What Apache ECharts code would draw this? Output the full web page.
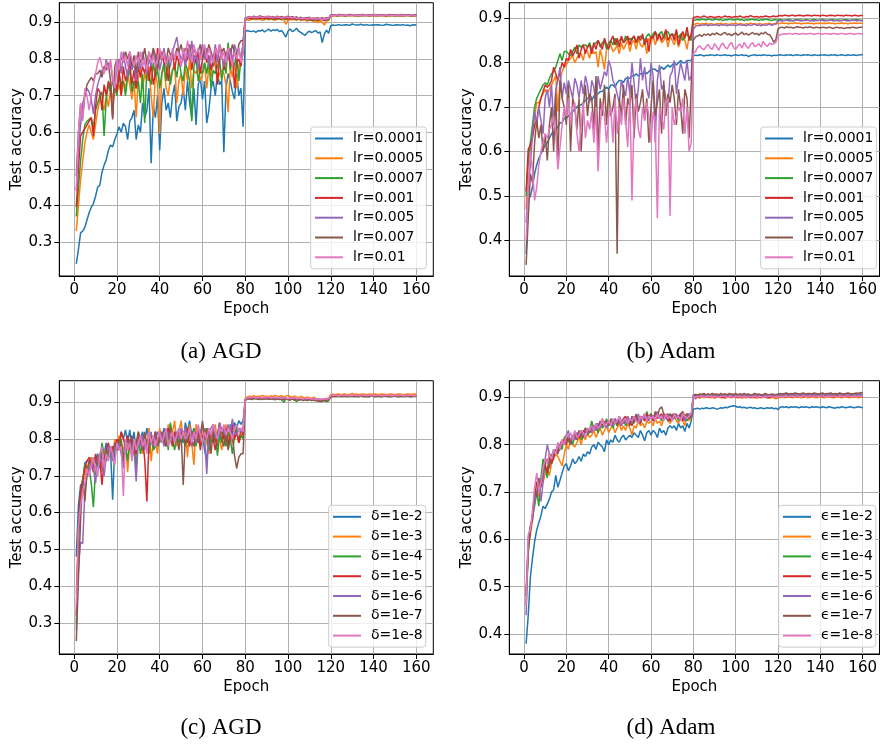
<!DOCTYPE html>
<html><head><meta charset="utf-8">
<script src="https://cdn.jsdelivr.net/npm/echarts@6/dist/echarts.min.js"></script>
<style>html,body{margin:0;padding:0;background:#fff}#c{width:880px;height:745px}</style>
</head><body><div id="c"></div>
<script>
// ---------- categories / labels ----------
const epochs = Array.from({length:160},(_,i)=>i+1);
const xTicks = [0,20,40,60,80,100,120,140,160];
const yTicksA = [30,40,50,60,70,80,90];
const yTicksB = [40,50,60,70,80,90];
const lrNames = ['lr=0.0001','lr=0.0005','lr=0.0007','lr=0.001','lr=0.005','lr=0.007','lr=0.01'];
const deltaNames = ['δ=1e-2','δ=1e-3','δ=1e-4','δ=1e-5','δ=1e-6','δ=1e-7','δ=1e-8'];
const epsNames = ['ϵ=1e-2','ϵ=1e-3','ϵ=1e-4','ϵ=1e-5','ϵ=1e-6','ϵ=1e-7','ϵ=1e-8'];
const captions = ['(a) AGD','(b) Adam','(c) AGD','(d) Adam'];

// ---------- (a) AGD, learning rate (test accuracy, %) ----------
const agdLr0001 = [24,28,32.5,33,34,36,38,39.5,40.5,42.5,45,45.5,49,51,52.5,55,56.5,56,58,59.5,61.5,60,62.5,61.5,58,63,64,66,58,62,60,68,64,66,72,51.5,67,64,70,55,68,72,66,68,64,70,73,63,67,68,72,66,74,68,64,72,62,73,75,69,74,62.5,66,72,74,70,76,73,74,54.5,72,76,74,71,69,76,70,72,61.5,87.5,
87.8,87.6,87.5,87.7,87.3,87.8,87.6,88,87.4,87.8,88.2,87.6,88,87.8,88.1,87.5,87.8,87,86,87.6,88.2,87.5,87.8,88.4,87.6,87.3,86.8,86.5,87.2,87.6,87.2,87.5,87.8,87.1,87.4,84.5,86.8,87.9,87,89.2,
89.3,89.2,89.3,89.4,89.2,89.3,89.4,89.3,89.2,89.6,89.4,89.3,89.3,89.5,89.3,89.3,89.4,89.2,89.3,89.4,89.3,89.4,89.3,89.2,89.3,89.5,89.4,89.3,89.2,89.3,89.4,89.3,89.3,89.4,89.2,89.3,89.1,89.3,89.4,89.3];
const agdLr0005 = [33,40,47,52,57,60,62,60,58,62,66,69,68,66,70,67,72,69,74,71,73,70,74,72,76,73,69,74,64,75,77,72,76,74,78,70,64,76,73,59.5,76,78,72,70,75,77,79,68,74,76,70,78,74,80,72,77,76,78,74,76,79,72,78,75,80,78,74,76,77,76,73,65.5,78,75,79,72,78,80,81,90.5,
90.8,90.6,90.9,91,90.7,90.9,91,90.6,90.8,90.9,90.7,91,90.8,90.6,90.9,91,90.7,90.8,89.5,90.6,90.8,90.7,90.9,90.6,91,90.5,90.8,90.6,90.4,90.7,90.6,90.2,90.5,89.9,90.4,90.1,89.3,90.3,90.6,91.8,
91.8,91.9,91.7,91.8,91.9,91.8,91.7,91.9,91.8,91.8,91.9,91.8,91.7,91.8,91.9,91.8,91.8,91.7,91.9,91.8,91.8,91.7,91.9,91.8,91.8,91.6,91.8,91.9,91.8,91.7,91.8,91.9,91.8,91.7,91.8,91.8,91.9,91.7,91.8,91.6];
const agdLr0007 = [37,45,52,58,62,63,63.5,64,61,66,68,70,71,59,69,73,71,74,72,70,76,73,74,70,75,77,71,74,72,74,68,76,62.5,78,75,73,79,75,77,72,76,79,74,80,73,77,78,75,80,76,74,79,77,74,63,78,80,74,77,76,79,76,80,72,77,76,78,80,74,79,76,84.5,77,80,78,82,74,80,84,90.8,
91,91.2,91.1,90.9,91.2,91,91.3,91.1,90.9,91.2,91,91.1,90.8,91.2,91,91.1,90.9,91.2,90.8,91,91.1,90.9,91.2,90.8,91,90.7,90.9,91.1,90.6,90.8,90.9,90.6,90.8,90.5,90.7,90.9,90.6,90.8,90.7,91.9,
91.9,92,91.8,91.9,92,91.9,91.8,92,91.9,91.9,92,91.9,91.8,91.9,92,91.9,91.9,91.8,92,91.9,91.9,92,91.8,91.9,91.9,92,91.9,91.8,91.9,92,91.9,91.8,91.9,92,91.9,91.9,91.8,91.9,92,91.8];
const agdLr001 = [39.5,50,59,60,61,62,63,64,59,67,72,71,66,73,70,74,72,64,75,71,77,70,78,74,76,79,73,77,72,78,75,78,76,80,74,79,73,76,83,80,82,79,78,74,80,82,77,81,79,78,82,79,80,83,77,81,79,82,76,80,82,79,81,77,80,82,73,80,82,77,80,83,78,81,72,79,80,78,83,91,
91.1,91.2,91,91.3,91.1,91.2,91,91.2,91.1,91.3,91,91.2,91.1,90.9,91.2,91.1,91,91.2,90.9,91.1,91,91.2,90.8,91,91.1,90.9,90.7,91,90.8,91,90.6,90.9,90.8,90.6,90.9,90.7,90.5,90.8,90.9,91.9,
92,91.9,92,91.9,92.1,91.9,92,91.9,92,92.1,91.9,92,91.9,92,91.9,92.1,92,91.9,92,91.9,92,91.9,92.1,92,91.9,92,91.9,92,92.1,91.9,92,91.9,92,91.9,92,92.1,91.9,92,91.9,91.9];
const agdLr005 = [44,55,62,68,70,72,71,69,65,70,73,75,77,76,80,77,79,74,72,78,80,76,82,78,75,81,77,79,74,80,77,82,79,76,80,78,82,79,81,77,80,83,79,81,78,82,84,86,82,80,81,78,83,80,85,79,82,77,81,84,80,83,78,82,80,84,79,83,81,78,82,80,83,79,84,82,83,80,84,91,
91.3,91.5,91.4,91.6,91.3,91.5,91.7,91.4,91.5,91.3,91.6,91.4,91.5,91.3,91.6,91.4,91.5,91.2,91.4,91.6,91.3,91.5,91.2,91.4,91.1,91.3,90.9,91.2,91,91.3,91.1,90.8,91.2,90.9,91.1,91.3,90.8,91.1,91,92,
92,92.1,91.9,92,92.1,92,91.9,92.1,92,92,92.1,91.9,92,92.1,92,91.9,92,92.1,92,91.9,92,92.1,92,92,91.9,92.1,92,92,91.9,92,92.1,92,91.9,92,92,92.1,92,91.9,92,92];
const agdLr007 = [48,60,67.5,64,70,73,74,75,74,76,76,77,75,78,77,79,74,63.5,78,80,77,81,79,82,80,82,78,81,76,82,79,80,83,79,82,80,83,81,77,82,80,82,79,83,81,82,80,83,82,84,81,83,82,84,80,83,81,82,84,80,83,81,84,82,78,83,81,84,82,83,80,83,81,84,82,79,84,85,85,91.2,
91.4,91.6,91.5,91.7,91.5,91.6,91.8,91.5,91.6,91.4,91.7,91.5,91.6,91.4,91.7,91.5,91.6,91.4,91.5,91.7,91.4,91.6,91.3,91.5,91.2,91.4,91.1,91.3,91.2,91.4,91,91.2,91.1,91.3,91,91.2,91.1,91.3,91.2,92.1,
92.1,92,92.1,92.2,92,92.1,92,92.1,92.2,92,92.1,92,92.1,92,92.2,92.1,92,92.1,92,92.1,92.2,92,92.1,92,92.1,92,92.2,92.1,92,92.1,92,92.1,92.2,92,92.1,92,92.1,92,92.1,92];
const agdLr01 = [44,60,68,63,72,70,66,70,73,76,79,80.5,78,76,79,77,80,75,72,80,77,82,79,81,78,82,80,78,81,79,82,78,80,77,82,79,81,78,80,83,80,82,78,81,79,83,80,82,81,78,83,80,85,82,79,84,81,83,80,82,84,80,83,81,79,83,81,84,80,82,79,83,81,78,82,80,83,79,82,91,
91.2,91.4,91.6,91.3,91.5,91.4,91.6,91.3,91.5,91.7,91.4,91.5,91.3,91.6,91.4,91.5,91.2,91.4,91.6,91.3,91.5,91.2,91.4,91.1,91.3,91,91.2,91.1,90.9,91.2,91,91.2,90.9,91.1,91,90.8,91.1,91,91.2,92,
91.9,92,92.1,91.9,92,91.9,92.1,92,91.9,92,92.1,91.9,92,91.9,92,92.1,91.9,92,91.9,92,92.1,92,91.9,92,91.9,92.1,92,91.9,92,92,91.9,92.1,92,91.9,92,91.9,92,92.1,91.9,91.8];

// ---------- (b) Adam, learning rate ----------
const adamLr0001 = [37,49,50,52,55,57,58.5,59.5,60.5,61.5,62,63,64,64.5,65,65.5,66.5,66.5,67.5,67.5,68,68.5,69,69.5,70,70.5,70.5,71,71.5,72,72,71.5,72.5,73,73,73.5,73.5,74,74.5,74,75,75,74.5,75.5,76,76,75.5,76.5,76.5,76.5,77,77,77.5,77,77.5,77.5,78,77.5,78,78.5,78.5,78.5,78,78.5,79,78.5,79,79.5,79,79.5,80,79.5,80,80.5,80,80,80.5,80.5,80.5,81.5,
81.7,81.6,81.8,81.7,81.5,81.7,81.6,81.8,81.7,81.6,81.8,81.7,81.6,81.7,81.8,81.6,81.7,81.5,81.7,81.8,81.6,81.7,81.8,81.6,81.7,81.4,81.6,81.7,81.8,81.6,81.7,81.6,81.8,81.7,81.6,81.7,81.5,81.7,81.6,81.7,
81.8,81.7,81.6,81.8,81.7,81.8,81.6,81.7,81.8,81.7,81.6,81.8,81.7,81.8,81.7,81.6,81.8,81.7,81.6,81.8,81.7,81.8,81.7,81.6,81.8,81.7,81.8,81.6,81.7,81.8,81.7,81.6,81.8,81.7,81.7,81.8,81.6,81.7,81.8,81.8];
const adamLr0005 = [47,58,60,64,68,71,71,72,73,74,73,74,75,76,77,69,76,78,79,79.5,80.5,81,81.5,80,81,82,82,80.5,83,82.5,81,83.5,82,82.5,79,83,81,78.5,83,83.5,84,82.5,83,84,82,84.5,83,84,85,82.5,84.5,85,83,85.5,84,83.5,85,82,85.5,84.5,86,84,85.5,86,84.5,85,86,83.5,86,85,84,86,83.5,85,86.5,85,83,86,85.5,88.5,
88.7,88.9,88.6,88.8,88.7,88.9,88.6,88.8,88.7,88.5,88.8,88.7,88.9,88.6,88.8,88.7,88.5,88.8,88.7,88.9,88.6,88.8,88.7,88.5,88.8,88.6,88.9,88.7,88.8,88.6,88.8,88.7,88.5,88.8,88.7,88.9,88.6,88.8,88.7,88.8,
88.8,89,88.8,88.9,88.7,88.9,88.8,89,88.8,88.9,88.7,88.9,88.8,89,88.8,88.9,88.7,88.9,88.8,89,88.8,88.9,88.8,89,88.8,88.9,88.7,88.9,88.8,89,88.8,88.9,88.7,88.9,88.8,89,88.8,88.9,88.9,88.8];
const adamLr0007 = [50,58,62,66,70,72,73,74,75,75.5,75,76.5,77.5,78,79,80.5,82,80.5,82.5,82.5,82,81.5,82.5,83.5,82,84,83.5,84,84,83.5,84.5,83,84,84.5,85,83.5,84.5,85,83,84.5,85,84,85.5,84,85,85.5,84.5,86,85,85.5,85,86,84.5,85.5,86,85.5,85,86,86.5,85.5,86.5,87,86,86.5,87,85.5,86.5,87,86,86.5,86,87,85.5,86.5,85,86,86.5,85.5,85,89.5,
89.6,89.7,89.6,89.8,89.7,89.6,89.8,89.7,89.6,89.7,89.8,89.6,89.7,89.5,89.7,89.6,89.8,89.7,89.6,89.7,89.8,89.6,89.7,89.5,89.7,89.6,89.7,89.8,89.6,89.7,89.5,89.7,89.6,89.8,89.7,89.6,89.5,89.7,89.6,89.6,
89.7,89.6,89.5,89.6,89.7,89.6,89.5,89.6,89.7,89.6,89.6,89.5,89.7,89.6,89.5,89.6,89.7,89.6,89.5,89.6,89.7,89.6,89.5,89.6,89.6,89.7,89.5,89.6,89.6,89.5,89.6,89.7,89.6,89.5,89.6,89.6,89.7,89.6,89.5,89.6];
const adamLr001 = [51,60.5,61.5,63,66,67,70,72,73.5,75,74.5,75,76,79,77.5,76,78,80,79,81,80.5,83,81.5,82.5,84,81,83,84,82,83.5,84,82,84.5,83,85,84,83,85.5,84,83,85,86,84,85.5,83.5,86,84.5,85,86,84,85.5,86,84.5,86,85,86.5,84,85.5,82.5,86,85.5,87,85,86.5,85,86,87.5,85,86,86.5,85,87.5,84,86,87,85.5,88,85,86.5,90.2,
90.3,90.4,90.2,90.3,90.5,90.3,90.2,90.4,90.3,90.1,90.3,90.4,90.2,90.3,90.5,90.3,90.4,90.2,90.3,90.4,90.3,90.5,90.3,90.2,90.4,90.3,90.6,90.4,90.3,90.4,90.2,90.4,90.3,90.5,90.4,90.3,90.4,90.5,90.3,90.5,
90.6,90.5,90.7,90.6,90.5,90.6,90.7,90.5,90.6,90.7,90.6,90.5,90.6,90.7,90.6,90.5,90.7,90.6,90.6,90.5,90.7,90.6,90.5,90.6,90.7,90.6,90.5,90.7,90.6,90.6,90.5,90.7,90.6,90.6,90.5,90.7,90.6,90.5,90.6,90.6];
const adamLr005 = [44,52,57,64,69,66,70,67,64,72,74,70,75,66,74,76,79,72,75.5,73,76,74,72,76.5,75,72,76,73,77,75,71,76,74.5,70,77,74,76,78,77,80.5,79,76,75,73,71,76,74,72.5,77,73,80,75.5,70,74,81,76,79,74,72,80,77,62,76,79.5,74,75,72,70,77,78,80.5,73,77,80,78,76,80.5,76,77,87.5,
88.2,88.4,88.3,88.5,88.4,88.6,88.3,88.5,88.4,88.6,88.5,88.3,88.6,88.4,88.5,88.3,88.6,88.4,88.5,88.3,88.5,88.6,88.4,88.5,88.3,88.6,88.4,88.5,88.7,88.4,88.5,88.3,88.6,88.4,88.5,88.7,88.4,88.6,88.8,89.4,
89.5,89.4,89.5,89.6,89.4,89.5,89.4,89.5,89.6,89.5,89.4,89.5,89.5,89.6,89.4,89.5,89.4,89.5,89.5,89.6,89.5,89.4,89.5,89.5,89.6,89.4,89.5,89.5,89.4,89.5,89.6,89.5,89.4,89.5,89.5,89.6,89.4,89.5,89.5,89.4];
const adamLr007 = [34.5,45,55,53,62,67,63,66,60,64,58,66,70,60,73,57,76,72,70,66,75,60,72,70,65,72,60,70,75,68,73,72,65,77,60,72,68,75,66,74,68,70,73,37,72,68,75,66,72,70,75,63,73,69,71,74,67,72,62,70,76,68,71,74,64,76,68,73,71,75,72,66,74,70,64,74,72,63,75,85,
85.8,86,86.3,85.9,86.4,86.2,86.5,86.1,86.6,86.3,86.7,86.4,86.2,86.6,86.8,86.3,86.5,86.1,86.4,86.7,86.2,86.5,86.9,86.3,86.6,86.2,86.5,86.8,86.4,86.6,86.2,86.7,86.5,86.9,86.4,86.3,85.6,84.6,85.2,87.6,
87.9,88,87.8,88.1,87.9,88,87.8,87.9,88.1,88,87.9,87.8,88,87.9,88.1,87.9,87.8,88,87.9,87.8,88,87.9,87.8,88,87.9,87.7,87.9,88,87.8,87.9,87.7,87.8,87.9,87.8,88,87.9,87.8,87.9,88,88];
const adamLr01 = [40,52,60,56,49,52,57,60,62,64,63,65,66,68,64,56,61,66,70,68,72,66,70,71,64,60,66,71,63,67,65,69,62,70,55.5,66,71,68,62,68,70,62,72,64,70,66,72,67,61,73,49,68,72,65,63,70,67,71,68,62,69,66,45,70,68,65,71,72,45.5,70,66,68,70,69,72,64,70,60,62,82,
82.5,83.4,83.8,83.2,82.9,83.6,84.1,83.3,83,84.3,83.6,82.8,83.9,84.4,83.5,83.1,84,84.6,83.4,83,83.8,84.2,83.3,84.6,83.7,83.2,84.1,84.5,83.6,83.9,84.3,83.5,84.8,84,83.7,84.4,84.1,84.3,84.6,86,
86.3,86.4,86.5,86.4,86.6,86.5,86.4,86.6,86.5,86.4,86.5,86.6,86.4,86.5,86.6,86.5,86.4,86.5,86.6,86.5,86.4,86.6,86.5,86.5,86.4,86.6,86.5,86.4,86.5,86.6,86.5,86.4,86.5,86.6,86.5,86.4,86.5,86.6,86.5,86.5];

// ---------- (c) AGD, delta ----------
const agdD2 = [48,62,67.5,68,73.5,74,74,75,72,74,76,72,77,76,79,75,77,63.5,78,80,77,82,80,82.5,79,82.5,78,82,76,81,80,82,79,83,80,81,77,82,79,81,80,83,81,80,84,79,82,80,83,81,79,84.5,82,85,81,83,79,82,80,81,77,74,82,80,83,81,78,81,83,80,82,78,84,81,84.5,83,85,84,85,90.8,
91,91.2,91.1,91.3,91,91.2,91.3,91.1,91.2,91,91.3,91.1,91.2,91,91.1,91.3,91,91.2,91.1,90.9,91.1,91,91.2,90.9,91.1,91,90.8,91.1,90.9,91,90.8,91,90.9,90.7,90.8,90.6,90.9,90.8,90.9,91.7,
91.8,91.9,91.8,91.7,91.9,91.8,91.9,91.8,91.7,91.8,91.9,91.8,91.8,91.7,91.9,91.8,91.8,91.9,91.7,91.8,91.9,91.8,91.7,91.8,91.9,91.8,91.8,91.7,91.9,91.8,91.8,91.9,91.7,91.8,91.8,91.9,91.8,91.7,91.8,91.8];
const agdD3 = [38,55,64,68,70,73,72,75,73,75,74,76,71,77,75,77,78,74,80,78,81,79,77,80,71,79,77,80,74,82,79,76,81,78,83,74,80,79,76,83,80,81,78,84,80,82,85,78,82,85,80,83,75,84,79,73,84,80,78,84,81,79,76,80,82,84,79,80,77,81,84,80,82,79,83,82,79,81,82,91.2,
91.5,91.7,91.6,91.8,91.5,91.7,91.6,91.9,91.6,91.7,91.5,91.8,91.6,91.9,91.7,91.6,91.8,91.5,91.7,91.9,91.6,91.4,91.7,91.5,91.3,91.6,91.4,91.2,91.5,91.3,91,91.4,91.1,90.8,91,90.6,90.9,91.1,91,92.1,
92.2,92.1,92.3,92.2,92.1,92.3,92.2,92.1,92.2,92.4,92.2,92.3,92.1,92.2,92.3,92.2,92.1,92.3,92.2,92.2,92.3,92.1,92.2,92.3,92.2,92.1,92.2,92.3,92.2,92.1,92.2,92.3,92.2,92.1,92.2,92.3,92.2,92.2,92.3,92.2];
const agdD4 = [30,52,65,69,73,72,72,68,61.5,72,74,73,79,76,74,77,75,78,76,79,77,80,75,78,74,80,77,79,72,80,76,79,78,80,76,81,77,78,80,79,81,79,82,77,84.5,80,77,81,79,82,80,78,82,81,79,83,78,82,80,79,83,81,77,80,79,82,75.5,81,79,83,78,82,80,76,81,83,79,81,80,90.8,
90.9,91.1,90.8,91,91.2,90.9,91.1,90.8,91,91.1,90.9,91,90.8,91.1,90.9,91,90.7,90,90.9,91,90.8,90.9,90.6,90.3,90.7,90.9,90.6,90.8,90.5,90.7,90.8,90.5,90.7,90.4,90.6,90.3,90.5,90.2,90.4,91.6,
91.6,91.7,91.6,91.5,91.7,91.6,91.6,91.7,91.5,91.6,91.7,91.6,91.5,91.6,91.7,91.6,91.6,91.5,91.7,91.6,91.6,91.7,91.5,91.6,91.6,91.7,91.6,91.5,91.6,91.7,91.6,91.5,91.6,91.7,91.6,91.6,91.5,91.6,91.7,91.6];
const agdD5 = [32,55,66,69,72,74,75,73,71,76,73,75,67.5,74,77,79,76,78,77,80,78,82,80,78,81,77,80,79,76,81,79,80,74.5,63,80,81,78,82,79,82,80,79,81,83,80,78,82,80,83,81,82,79,83,78,81,82,80,83,77,81,80,83,79,82,80,77,81,84.5,82,80,83,78,81,84,80,82,79,83,81,90.6,
91.1,91.3,91,91.2,91.1,91.3,91,91.2,91.1,91,91.2,91.1,90.9,91.2,91,91.1,90.9,91.1,91,90.8,91,90.9,91.1,90.8,91,90.9,90.7,91,90.8,90.9,90.7,90.9,90.6,90.4,90.2,90.5,90.7,90.8,90.9,91.8,
91.8,91.9,91.8,91.7,91.8,91.9,91.8,91.8,91.7,91.9,91.8,91.8,91.9,91.7,91.8,91.8,91.9,91.8,91.7,91.8,91.9,91.8,91.8,91.7,91.8,91.9,91.8,91.8,91.7,91.8,91.9,91.8,91.7,91.8,91.8,91.9,91.8,91.7,91.8,91.8];
const agdD6 = [28,45,52,51.5,66,70,72,74,72,68,74,76,73,70,75,78,77,74,78,77,79,76,72,78,77,80,75,77,68.5,80,78,81,77,79,80,82,78,80,82,80,81,78,82,80,83,81,79,82,80,83,81,83,80,82,78,82,79,83,81,84,81,70.5,82,83,84,80,81,84.5,82,83,80,84,82,85.5,82,81,83,82,83,90.8,
91,91.2,91.1,91.3,91.1,91,91.2,91.1,91.3,91,91.2,91.1,91,91.2,91.1,90.9,91.1,91,91.2,90.9,91.1,91,90.8,91.1,90.9,91,90.8,91,90.7,90.9,90.8,90.6,90.9,90.7,90.8,90.5,90.8,90.9,90.7,91.7,
91.8,91.7,91.8,91.9,91.7,91.8,91.8,91.7,91.9,91.8,91.7,91.8,91.8,91.9,91.7,91.8,91.7,91.8,91.9,91.8,91.7,91.8,91.8,91.7,91.9,91.8,91.7,91.8,91.8,91.9,91.7,91.8,91.8,91.7,91.8,91.9,91.8,91.7,91.8,91.8];
const agdD7 = [25,42,58,69.5,63,71,74,73,75,74,73,76,75,74,77,76,78,76,79,77,80,78,74,80,78,79,81,76,79,82,80,77,82,78,80,81,79,82,78,80,82,80,78,81,83,80,79,81,77,82,67.5,81,79,82,80,78,82,79,81,85,80,83,81,76,82,79,81,83,80,78,82,77,80,81,75.5,72,75,76,76,90.5,
90.9,91,90.8,91.1,90.9,91,90.8,91,90.9,91.1,90.8,91,90.9,90.7,91,90.8,90.9,90.7,90.9,90.8,90.6,90.9,90.7,90.8,90.6,90.8,90.5,90.7,90.6,90.8,90.5,90.7,90.4,90.6,90.3,90.5,90.6,90.4,90.7,91.5,
91.6,91.5,91.6,91.7,91.5,91.6,91.6,91.5,91.7,91.6,91.5,91.6,91.6,91.7,91.5,91.6,91.5,91.6,91.7,91.6,91.5,91.6,91.6,91.5,91.7,91.6,91.5,91.6,91.6,91.7,91.5,91.6,91.6,91.5,91.6,91.7,91.6,91.5,91.6,91.6];
const agdD8 = [35,56,62,66,68,72,70,73,75,72,70,76,78,72,76,74,78,76,73,79,77,78,64.5,80,77,79,74,80,77,79,81,78,80,76,82,79,81,78,80,82,79,81,83,78,80,82,79,81,83,80,82,80,81,83,79,82,80,84,81,79,82,80,83,81,84,82,80,83,82,84,81,83,82,80,83,84,82,83,82,90.8,
91.2,91.4,91.3,91.5,91.2,91.4,91.3,91.2,91.4,91.3,91.5,91.2,91.3,91.4,91.2,91.3,91.1,91.3,91.2,91,91.2,91.1,91.3,91,91.2,91.1,90.9,91.1,91,91.1,90.9,91,90.8,91,90.7,90.9,91,90.9,91,91.9,
91.9,92,91.9,91.8,92,91.9,91.9,92,91.8,91.9,92,91.9,91.9,91.8,92,91.9,91.9,92,91.8,91.9,91.9,92,91.9,91.8,91.9,92,91.9,91.9,91.8,92,91.9,91.9,92,91.8,91.9,91.9,92,91.9,91.8,91.9];

// ---------- (d) Adam, epsilon ----------
const adamE2 = [38,44,52,56,59.5,62,63.5,65,67,66.5,67.5,68.5,70,70.5,73.5,71,72.5,74,75.5,76,74.5,75.5,77,76,76.5,77.5,76.5,78,77.5,78.5,78,79.5,80,79,80.5,80,79.5,78.5,81,80,81,80.5,82,81,80.5,81.5,82,81,81.5,82,81.5,82.5,82,81.5,83,82,80.8,82.5,83,82,83,82.5,81.5,83.5,82.5,83,82,83.5,84,83.5,84,83,84.5,83.5,84,82.8,84.5,83.5,85,87.5,
87.6,87.7,87.5,87.7,87.6,87.8,87.7,87.6,87.8,87.7,87.5,87.6,87.8,87.7,87.9,87.8,88,88.1,88.2,88.1,87.9,88,87.8,87.9,87.7,87.8,87.9,87.7,87.8,87.6,87.7,87.8,87.6,87.7,87.8,87.7,87.8,87.6,87.7,87.4,
87.9,88,87.9,88,87.8,88,87.9,88,87.9,87.8,88,87.9,88,87.9,87.8,88,87.9,88,87.9,87.8,88,87.9,87.8,88,87.9,87.8,87.7,87.9,87.8,88,87.9,87.8,87.9,88,87.9,87.8,87.9,88,87.9,87.8];
const adamE3 = [48,58,61,64,68,70,69,73,72,74,75,73.5,76,77,78,77.5,76.5,75.5,78,80,79,81,80,79.5,80.5,81.5,80,82,81,82.5,81.5,82,83,81.5,82.5,83.5,82,83,84,82.5,83.5,84,82.5,83.5,84.5,83,84,83,84.5,83.5,82,84,83.5,85,84,84.5,83.5,85,84.5,85,84,85.5,84.5,85,84,85.5,86,85,84.5,85.5,86,85,84.5,86,85,84,86.5,85,86,90,
89.9,90,89.8,90.1,89.9,90,90.1,89.9,90,89.8,90,90.1,89.9,90,89.8,90,90.1,89.9,90,90.1,89.9,90,89.8,90,89.9,90.1,90,89.9,90,89.8,90,89.9,90.1,90,89.9,89.8,90,89.9,89.7,89.9,
90,90.1,89.9,90,90.1,90,89.9,90,90.1,90,89.9,90,90.1,89.9,90,90.1,90,89.9,90,90.1,90,89.9,90,90.1,90,89.9,90,90,90.1,89.9,90,90.1,90,89.9,90,90.1,90,89.9,90,90];
const adamE4 = [46,57,62,65,67,70,67,73,77,75,73,77,76,78,78.5,79,80,79,81.5,82,80.5,81,80,82,81.5,82.5,81,82,83.5,82,83,85,83,84,82.5,84.5,83.5,84,85.5,84,84.5,83.5,85,84,85,84.5,85.5,84,85,84.5,85,84.5,86,85,84.5,86,85,87,85.5,86,85,86.5,85.5,86,85,86.5,85.5,86,85,86.5,85.5,86,85,86.5,85.5,86,85,86.5,86,90.3,
90.4,90.5,90.3,90.6,90.4,90.5,90.6,90.3,90.5,90.4,90.6,90.4,90.5,90.3,90.5,90.6,90.4,90.5,90.3,90.5,90.4,90.6,90.3,90.5,90.4,90.3,90.5,90.4,90.6,90.3,90.5,90.4,90.3,90.5,90.4,90.6,90.4,90.3,90.5,90.4,
90.5,90.4,90.6,90.5,90.4,90.5,90.6,90.4,90.5,90.5,90.4,90.6,90.5,90.4,90.5,90.6,90.5,90.4,90.5,90.6,90.5,90.4,90.5,90.6,90.5,90.4,90.5,90.5,90.6,90.4,90.5,90.6,90.5,90.4,90.5,90.6,90.5,90.4,90.5,90.5];
const adamE5 = [49,59,62,65,69,72,72.5,72,74,76,74,78,76,77.5,79,78.5,79,80.5,81,80,81.5,80.5,82,81,82.5,81.5,82,83,82.5,83,82.5,83.5,84,83,84.5,83.5,85.5,84,85,84.5,85,84,85.5,84.5,85,84,85.5,86,84.5,85,84,85.5,86,85,84.5,86,85,86.5,85.5,86,85,86.5,85.5,86,86.5,85.5,86,86.5,85,86,86.5,85.5,86,86.5,85,86,86.5,85.5,86,90.2,
90.1,90.2,90,90.3,90.1,90.2,90,90.2,90.1,90.3,90,90.2,90.1,89.9,90.2,90.1,90.3,90,90.2,90.1,90,90.2,90.1,90.3,90,90.1,89.9,90.2,90,90.1,90.2,90,90.1,90.2,89.9,90.1,90,90.2,90.1,90.2,
90.1,90.2,90.3,90.1,90.2,90.1,90.3,90.2,90.1,90.2,90.3,90.1,90.2,90.2,90.1,90.3,90.2,90.1,90.2,90.3,90.1,90.2,90.2,90.3,90.1,90.2,90.1,90.3,90.2,90.1,90.2,90.3,90.1,90.2,90.2,90.1,90.3,90.2,90.1,90.1];
const adamE6 = [44,60,63,64,68,70,72,68,72,77,80,78,77,79,78.5,80,79.5,81,80,82,83,80.5,82,81,82.5,82,83,81.5,83,82.5,83.5,82.5,84,83,84.5,83.5,84,85,83.5,84.5,85,84,85.5,84.5,85,84,85.5,84.5,86,85,84.5,86,85,86.5,85,86,85.5,86,85,86.5,85.5,86,87,86,85.5,86.5,85.5,86,86.5,85,86,86.5,85.5,86,86.5,85,86,86.5,86,90.4,
89.6,90.3,90.5,90.2,90.6,90.4,90.7,90.3,90.5,90.6,90.4,90.6,90.3,90.5,90.7,90.4,90.5,90.3,90.6,90.4,90.5,90.7,90.4,90.5,90.3,90.6,90.4,90.5,90.3,90.6,90.4,90.5,90.3,90.6,90.4,90.5,90.3,90.4,90.6,90.5,
90.6,90.5,90.7,90.6,90.5,90.6,90.7,90.5,90.6,90.6,90.5,90.7,90.6,90.5,90.6,90.7,90.6,90.5,90.6,90.7,90.6,90.5,90.6,90.7,90.6,90.5,90.6,90.6,90.7,90.5,90.6,90.7,90.6,90.5,90.6,90.7,90.6,90.5,90.7,90.6];
const adamE7 = [48,58,62,65,70,69,73,71,74,76,77,75,78,77.5,79,78,80,81,80.5,81,82,80,81.5,82.5,81,83,82,81.5,83.5,83,82.5,84,83,84.5,83.5,85,84,84.5,85,84,85.5,84.5,85,84,86,85,84.5,85.5,85,84,86,85,86.5,85,86,85.5,86.5,85,86,86.5,85.5,87,86,87.5,88,86.5,86,85,86.5,85.5,86.5,86,85.5,86.5,87,86,86.5,85.5,86,90.5,
90.6,90.5,90.7,90.6,90.8,90.5,90.7,90.6,90.8,90.6,90.7,90.5,90.8,90.6,90.7,90.5,90.8,90.7,90.6,90.8,90.5,90.7,90.6,90.8,90.6,90.7,90.5,90.6,90.8,90.6,90.7,90.5,90.6,90.8,90.6,90.5,90.7,90.6,90.5,90.7,
90.8,90.7,90.8,90.9,90.7,90.8,90.7,90.9,90.8,90.7,90.8,90.9,90.7,90.8,90.8,90.7,90.9,90.8,90.7,90.8,90.9,90.7,90.8,90.8,90.9,90.7,90.8,90.7,90.9,90.8,90.7,90.8,90.9,90.8,90.7,90.8,90.9,90.8,91,90.9];
const adamE8 = [46,61,62,66,71,74,70,72,75,77,76,78,77,79,78,80.5,79,81,80,82,81.5,82.5,81,83,81.5,82,83,82.5,81.5,83.5,83,84,83,84.5,83.5,84,85.5,84,84.5,85,84,85.5,84.5,85,86,84.5,85,85.5,84.5,85.5,85,86,85,84.5,86,85.5,86.5,85,86,85.5,86,85,86.5,85.5,86,85,86.5,85.5,86,85,86.5,85.5,86,85,86.5,86,85.5,86,86.5,90.3,
90,90.2,90.1,90.3,90,90.2,90.1,90.3,90,90.2,90.1,90,90.2,90.1,90.3,90,90.2,90.1,90,90.2,90.1,90.3,90,90.2,90.1,90,90.2,90.1,90.3,90,90.2,90.1,90,90.2,90.1,90.3,90.1,90,90.2,90.1,
90.2,90.1,90.3,90.2,90.1,90.2,90.3,90.1,90.2,90.2,90.1,90.3,90.2,90.1,90.2,90.3,90.2,90.1,90.2,90.2,90.3,90.1,90.2,90.2,90.1,90.3,90.2,90.1,90.2,90.2,90.1,90.2,90.3,90.2,90.1,90.2,90.2,90.3,90.1,90.2];

// ---------- build ----------
const colors = ['#1f77b4','#ff7f0e','#2ca02c','#d62728','#9467bd','#8c564b','#e377c2'];
const FONT = 'DejaVu Sans';
const panels = [
  {names: lrNames,    data: [agdLr0001,agdLr0005,agdLr0007,agdLr001,agdLr005,agdLr007,agdLr01],
   grid:{left:59.3,top:2.7,width:374,height:273.3}, y:[20.7,95.4], yt:yTicksA, leg:{left:310.7,top:127}},
  {names: lrNames,    data: [adamLr0001,adamLr0005,adamLr0007,adamLr001,adamLr005,adamLr007,adamLr01],
   grid:{left:509.3,top:2.7,width:374,height:273.3}, y:[32,93.5], yt:yTicksB, leg:{left:760.7,top:127}},
  {names: deltaNames, data: [agdD2,agdD3,agdD4,agdD5,agdD6,agdD7,agdD8],
   grid:{left:59.3,top:380.7,width:374,height:273.3}, y:[21.5,95.9], yt:yTicksA, leg:{left:328.7,top:505.3}},
  {names: epsNames,   data: [adamE2,adamE3,adamE4,adamE5,adamE6,adamE7,adamE8],
   grid:{left:509.3,top:380.7,width:374,height:273.3}, y:[35.8,93.5], yt:yTicksB, leg:{left:778.7,top:505.3}}
];
const grids=[],xAxes=[],yAxes=[],series=[],legends=[],graphics=[];
panels.forEach((p,pi)=>{
  grids.push(Object.assign({show:true,borderColor:'#000',borderWidth:1,backgroundColor:'transparent'},p.grid));
  xAxes.push({type:'value',gridIndex:pi,min:-6.95,max:167.95,
    name:'Epoch',nameLocation:'middle',nameGap:26,nameTextStyle:{fontFamily:FONT,fontSize:15,color:'#000'},
    axisLine:{show:true,onZero:false,lineStyle:{color:'#000',width:1}},
    axisTick:{show:true,length:5,lineStyle:{color:'#000'},customValues:xTicks},
    axisLabel:{fontFamily:FONT,fontSize:15,color:'#000',margin:7,customValues:xTicks},
    splitLine:{show:true,lineStyle:{color:'#b0b0b0',width:1}}});
  yAxes.push({type:'value',gridIndex:pi,min:p.y[0],max:p.y[1],
    name:'Test accuracy',nameLocation:'middle',nameGap:34,nameRotate:90,nameTextStyle:{fontFamily:FONT,fontSize:15,color:'#000'},
    axisLine:{show:true,onZero:false,lineStyle:{color:'#000',width:1}},
    axisTick:{show:true,length:5,lineStyle:{color:'#000'},customValues:p.yt},
    axisLabel:{fontFamily:FONT,fontSize:15,color:'#000',margin:7,customValues:p.yt,formatter:v=>(v/100).toFixed(1)},
    splitLine:{show:true,lineStyle:{color:'#b0b0b0',width:1}}});
  p.data.forEach((arr,si)=>{
    series.push({type:'line',name:p.names[si],xAxisIndex:pi,yAxisIndex:pi,showSymbol:false,symbol:'none',
      lineStyle:{width:1.5,color:colors[si]},itemStyle:{color:colors[si]},
      data:epochs.map((e,i)=>[e,arr[i]]),animation:false,silent:true});
  });
  legends.push({show:true,orient:'vertical',left:p.leg.left,top:p.leg.top,data:p.names.slice(),
    icon:'rect',itemWidth:28,itemHeight:2,itemGap:3.8,padding:[3.5,3,3.5,4.3],
    backgroundColor:'rgba(255,255,255,0.8)',borderColor:'#cccccc',borderWidth:1,borderRadius:3,
    textStyle:{fontFamily:FONT,fontSize:14,color:'#000',lineHeight:16,padding:[0,0,0,5]},selectedMode:false});
});
const capPos=[[221,352],[671,352],[221,728],[671,728]];
captions.forEach((t,i)=>graphics.push({type:'text',x:capPos[i][0],y:capPos[i][1],
  style:{text:t,fontFamily:'Liberation Serif',fontSize:23,fill:'#000',textAlign:'center',textVerticalAlign:'middle'}}));
const chart = echarts.init(document.getElementById('c'),null,{renderer:'canvas'});
chart.setOption({animation:false,grid:grids,xAxis:xAxes,yAxis:yAxes,series:series,legend:legends,graphic:graphics});
</script></body></html>
